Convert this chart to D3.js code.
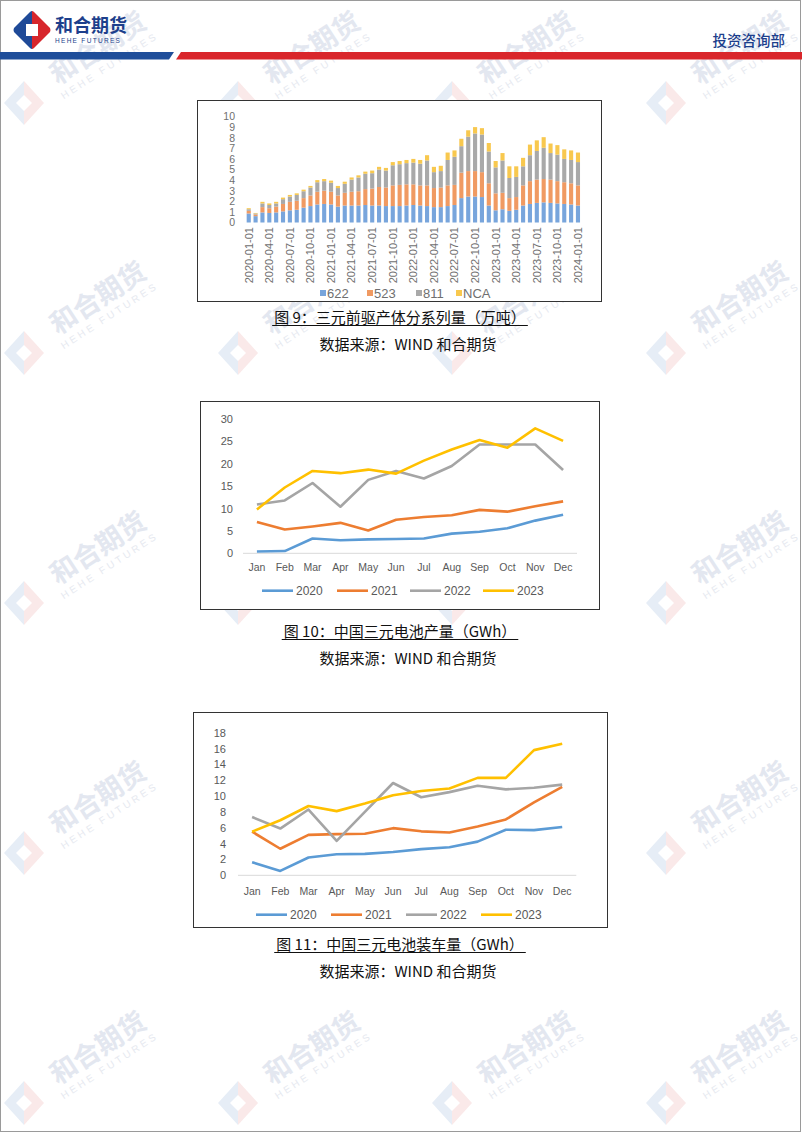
<!DOCTYPE html>
<html><head><meta charset="utf-8">
<script src="https://cdn.jsdelivr.net/npm/d3@7/dist/d3.min.js"></script>
<style>body{margin:0;background:#fff}svg{display:block}</style>
</head><body>
<script>
// ---------- DATA ----------
const months1 = ["2020-01-01","2020-02-01","2020-03-01","2020-04-01","2020-05-01","2020-06-01","2020-07-01","2020-08-01","2020-09-01","2020-10-01","2020-11-01","2020-12-01",
"2021-01-01","2021-02-01","2021-03-01","2021-04-01","2021-05-01","2021-06-01","2021-07-01","2021-08-01","2021-09-01","2021-10-01","2021-11-01","2021-12-01",
"2022-01-01","2022-02-01","2022-03-01","2022-04-01","2022-05-01","2022-06-01","2022-07-01","2022-08-01","2022-09-01","2022-10-01","2022-11-01","2022-12-01",
"2023-01-01","2023-02-01","2023-03-01","2023-04-01","2023-05-01","2023-06-01","2023-07-01","2023-08-01","2023-09-01","2023-10-01","2023-11-01","2023-12-01","2024-01-01"];
const s622 = [0.85,0.60,0.95,0.90,0.95,1.05,1.15,1.20,1.40,1.55,1.70,1.75,1.70,1.50,1.60,1.60,1.60,1.65,1.60,1.60,1.55,1.55,1.55,1.60,1.65,1.60,1.55,1.45,1.45,1.55,1.65,2.30,2.45,2.45,2.40,1.60,1.15,1.25,1.10,1.20,1.60,1.75,1.85,1.90,1.85,1.80,1.75,1.70,1.60];
const s523 = [0.25,0.15,0.50,0.45,0.55,0.70,0.80,0.85,0.90,1.00,1.20,1.25,1.20,1.05,1.20,1.30,1.35,1.50,1.60,1.75,1.75,1.95,2.00,2.00,1.95,1.90,1.95,1.80,1.85,1.95,1.90,2.40,2.40,2.40,2.35,2.10,1.60,1.55,1.20,1.20,1.90,2.15,2.20,2.20,2.20,2.10,2.05,2.00,1.90];
const s811 = [0.15,0.10,0.35,0.30,0.30,0.45,0.50,0.55,0.65,0.75,0.90,0.90,0.85,0.70,0.85,1.15,1.30,1.45,1.45,1.65,1.60,1.90,1.95,2.00,2.05,2.05,2.35,1.50,1.55,2.40,2.65,2.50,3.25,3.55,3.55,3.00,2.45,3.05,1.90,1.90,1.80,2.45,2.70,2.95,2.50,2.50,2.20,2.20,2.20];
const sNCA = [0.10,0.05,0.15,0.15,0.15,0.15,0.15,0.15,0.15,0.15,0.20,0.20,0.20,0.20,0.20,0.20,0.20,0.20,0.25,0.25,0.25,0.30,0.30,0.30,0.35,0.35,0.50,0.50,0.50,0.70,0.60,0.70,0.60,0.60,0.60,0.80,0.60,0.70,1.10,1.00,0.80,1.00,1.00,1.00,0.90,0.90,0.90,0.90,0.90];
const seriesNames1 = ["622","523","811","NCA"];
const yTicks1 = [0,1,2,3,4,5,6,7,8,9,10];

const monthsEn = ["Jan","Feb","Mar","Apr","May","Jun","Jul","Aug","Sep","Oct","Nov","Dec"];
const years = ["2020","2021","2022","2023"];
const prod2020 = [0.4,0.5,3.3,2.9,3.1,3.2,3.3,4.4,4.8,5.6,7.3,8.6];
const prod2021 = [7.0,5.3,6.0,6.8,5.1,7.5,8.1,8.5,9.7,9.3,10.5,11.6];
const prod2022 = [10.9,11.8,15.7,10.4,16.4,18.4,16.7,19.5,24.3,24.3,24.3,18.6];
const prod2023 = [9.8,14.7,18.4,17.9,18.7,17.8,20.7,23.2,25.3,23.6,27.9,25.1];
const yTicks2 = [0,5,10,15,20,25,30];

const inst2020 = [1.65,0.55,2.25,2.65,2.7,2.95,3.3,3.55,4.25,5.75,5.7,6.1];
const inst2021 = [5.5,3.35,5.1,5.2,5.25,5.95,5.55,5.4,6.15,7.05,9.2,11.15];
const inst2022 = [7.35,5.9,8.3,4.35,8.0,11.65,9.85,10.5,11.3,10.85,11.05,11.45];
const inst2023 = [5.5,6.95,8.75,8.1,9.05,10.1,10.65,10.95,12.3,12.3,15.8,16.6];
const yTicks3 = [0,2,4,6,8,10,12,14,16,18];

const barColors = ["#78a5dc","#f09a62","#a9a9a9","#f8c84e"];
const lineColors = ["#5b9bd5","#ed7d31","#a5a5a5","#ffc000"];
const CJK = "'Noto Sans CJK SC', sans-serif";
const LAT = "'Liberation Sans', Arial, sans-serif";

// ---------- PAGE ----------
const svg = d3.select("body").append("svg").attr("width",802).attr("height",1133);
svg.append("rect").attr("width",802).attr("height",1133).attr("fill","#fff");

// watermarks
const wm = svg.append("g");
for (let i=0;i<4;i++) for (let j=0;j<5;j++){
  const lx = 24 + 214*i, ly = 103 + 250*j;
  const g = wm.append("g").attr("transform",`translate(${lx},${ly})`);
  g.append("path").attr("d","M0,-22 L-20,0 L0,22 Z").attr("fill","#e6edf6");
  g.append("path").attr("d","M0,-22 L20,0 L0,22 Z").attr("fill","#fae9e9");
  g.append("path").attr("d","M0,-8 L8,0 L0,8 L-8,0 Z").attr("fill","#fff");
  const t = wm.append("g").attr("transform",`translate(${lx+74},${ly-55}) rotate(-33)`);
  t.append("text").attr("text-anchor","middle").attr("dy","0.35em").attr("font-family",CJK).attr("font-weight","bold")
    .attr("font-size",27).attr("fill","#e3e7f0").text("和合期货");
  t.append("text").attr("text-anchor","middle").attr("y",21).attr("dy","0.35em").attr("font-family",LAT)
    .attr("font-size",10).attr("letter-spacing",3).attr("fill","#e6e9f0").text("HEHE FUTURES");
}

// page border
svg.append("rect").attr("x",0.5).attr("y",0.5).attr("width",800).attr("height",1131).attr("fill","none").attr("stroke","#9a9a9a");

// header
const hg = svg.append("g");
hg.append("path").attr("d","M32,11 Q31,11 30,12 L14,28 Q13,30 14,32 L30,48 Q31,49 32,49 Z").attr("fill","#1f4a98");
hg.append("path").attr("d","M32,11 Q33,11 34,12 L50,28 Q51,30 50,32 L34,48 Q33,49 32,49 Z").attr("fill","#d7262c");
hg.append("rect").attr("x",26).attr("y",24).attr("width",12).attr("height",12).attr("fill","#fff");
hg.append("text").attr("x",55).attr("y",32).attr("font-family",CJK).attr("font-weight","bold").attr("font-size",18).attr("fill","#1d3f8c").text("和合期货");
hg.append("text").attr("x",55).attr("y",43).attr("font-family",LAT).attr("font-size",6.5).attr("letter-spacing",1.3).attr("fill","#1d3f8c").text("HEHE FUTURES");
hg.append("text").attr("x",785).attr("y",46).attr("text-anchor","end").attr("font-family",CJK).attr("font-weight","500").attr("font-size",14.5).attr("fill","#1d3f8c").text("投资咨询部");
hg.append("path").attr("d","M0,52 L174,52 L169,59.5 L0,59.5 Z").attr("fill","#1f4e9a");
hg.append("path").attr("d","M181,52 L802,52 L802,59.5 L176,59.5 Z").attr("fill","#d9262b");

// caption helper
function caption(text, y){
  const t = svg.append("text").attr("x",400).attr("y",y).attr("text-anchor","middle").attr("font-family",CJK)
    .attr("font-size",15).attr("fill","#111").text(text);
  const w = t.node().getComputedTextLength();
  svg.append("line").attr("x1",400-w/2-2).attr("x2",400+w/2+2).attr("y1",y+2.5).attr("y2",y+2.5).attr("stroke","#111").attr("stroke-width",1);
}
function source(y){
  svg.append("text").attr("x",408).attr("y",y).attr("text-anchor","middle").attr("font-family",CJK)
    .attr("font-size",15).attr("fill","#111").text("数据来源：WIND 和合期货");
}

// ---------- CHART 1 ----------
(function(){
  const g = svg.append("g");
  g.append("rect").attr("x",197.5).attr("y",100.5).attr("width",404).attr("height",201).attr("fill","#fff").attr("stroke","#333");
  const x = d3.scaleBand().domain(months1).range([245.3,581.4]).paddingInner(0.4).paddingOuter(0.2);
  const y = d3.scaleLinear().domain([0,10]).range([222.5,116.5]);
  const rows = months1.map((m,i)=>({m, "622":s622[i], "523":s523[i], "811":s811[i], "NCA":sNCA[i]}));
  const stack = d3.stack().keys(seriesNames1)(rows);
  g.selectAll("g.s").data(stack).join("g").attr("fill",(d,i)=>barColors[i])
    .selectAll("rect").data(d=>d).join("rect")
    .attr("x",d=>x(d.data.m)).attr("width",x.bandwidth())
    .attr("y",d=>y(d[1])).attr("height",d=>y(d[0])-y(d[1]));
  const ya = g.append("g").attr("transform","translate(235,0)").call(d3.axisLeft(y).tickValues(yTicks1).tickSize(0).tickPadding(0));
  ya.select(".domain").remove();
  ya.selectAll("text").attr("font-family",LAT).attr("font-size",10.5).attr("fill","#6f6f6f");
  const xa = g.append("g").attr("transform","translate(0,227)").call(d3.axisBottom(x).tickValues(months1.filter((d,i)=>i%3===0)).tickSize(0).tickPadding(0));
  xa.select(".domain").remove();
  xa.selectAll("text").attr("font-family",LAT).attr("font-size",11).attr("fill","#6f6f6f")
    .attr("text-anchor","end").attr("transform","rotate(-90)").attr("x",0).attr("y",0).attr("dy","0.35em");
  const lx = [320,367,416,456];
  seriesNames1.forEach((n,i)=>{
    g.append("rect").attr("x",lx[i]).attr("y",290).attr("width",6).attr("height",6).attr("fill",barColors[i]);
    g.append("text").attr("x",lx[i]+7).attr("y",293).attr("dy","0.35em").attr("font-family",LAT).attr("font-size",13).attr("fill","#6f6f6f").text(n);
  });
})();
caption("图 9：三元前驱产体分系列量（万吨）",323);
source(350);

// ---------- line chart helper ----------
function lineChart(box, yDomain, yRange, xRange, ticks, data, yLabX, xLabY, legY, legX){
  const g = svg.append("g");
  g.append("rect").attr("x",box[0]+0.5).attr("y",box[1]+0.5).attr("width",box[2]).attr("height",box[3]).attr("fill","#fff").attr("stroke","#333");
  const x = d3.scaleBand().domain(monthsEn).range(xRange);
  const y = d3.scaleLinear().domain(yDomain).range(yRange);
  g.append("line").attr("x1",xRange[0]).attr("x2",xRange[1]).attr("y1",y(0)).attr("y2",y(0)).attr("stroke","#d9d9d9").attr("stroke-width",1);
  const ya = g.append("g").attr("transform",`translate(${yLabX},0)`).call(d3.axisLeft(y).tickValues(ticks).tickSize(0).tickPadding(0));
  ya.select(".domain").remove();
  ya.selectAll("text").attr("font-family",LAT).attr("font-size",11).attr("fill","#595959");
  const xa = g.append("g").attr("transform",`translate(0,${xLabY})`).call(d3.axisBottom(x).tickSize(0).tickPadding(0));
  xa.select(".domain").remove();
  xa.selectAll("text").attr("font-family",LAT).attr("font-size",10.5).attr("fill","#595959").attr("dy","0.35em");
  const line = d3.line().x((d,i)=>x(monthsEn[i])+x.bandwidth()/2).y(d=>y(d));
  data.forEach((s,i)=>{
    g.append("path").datum(s).attr("d",line).attr("fill","none").attr("stroke",lineColors[i]).attr("stroke-width",2.6).attr("stroke-linejoin","round");
  });
  years.forEach((yr,i)=>{
    g.append("line").attr("x1",legX[i]).attr("x2",legX[i]+31).attr("y1",legY).attr("y2",legY).attr("stroke",lineColors[i]).attr("stroke-width",2.6);
    g.append("text").attr("x",legX[i]+34).attr("y",legY).attr("dy","0.35em").attr("font-family",LAT).attr("font-size",12).attr("fill","#595959").text(yr);
  });
}

lineChart([200,401,399,208],[0,30],[553.3,419],[243,577],yTicks2,[prod2020,prod2021,prod2022,prod2023],233,567,590.7,[262,337,410,483]);
caption("图 10：中国三元电池产量（GWh）",637);
source(664);

lineChart([193,712,414,215],[0,18],[875.3,732.7],[238,576.3],yTicks3,[inst2020,inst2021,inst2022,inst2023],226,891,914.7,[256,331,406,481]);
caption("图 11：中国三元电池装车量（GWh）",950);
source(977);
</script>
</body></html>
